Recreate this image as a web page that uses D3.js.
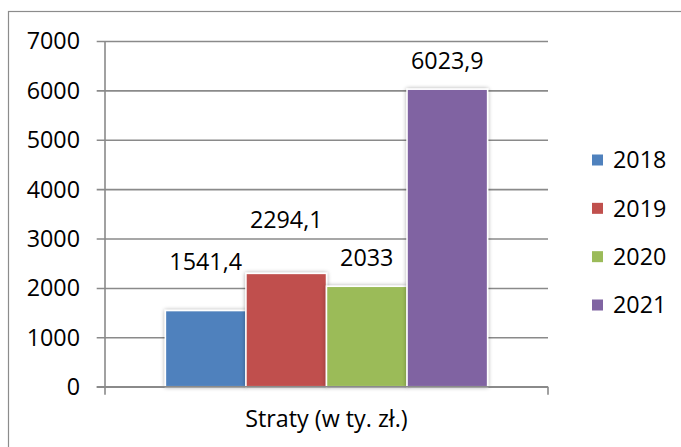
<!DOCTYPE html>
<html>
<head>
<meta charset="utf-8">
<script src="https://cdn.jsdelivr.net/npm/d3@7"></script>
<style>
  html, body { margin: 0; padding: 0; background: #fff; }
  svg { display: block; font-family: "Open Sans", "Noto Sans", sans-serif; }
</style>
</head>
<body>
<svg id="chart" width="681" height="447"></svg>
<script>
// Straty (w tys. zł) by year
const category = "Straty (w ty. zł.)";
const years = ["2018", "2019", "2020", "2021"];
const values = [1541.4, 2294.1, 2033, 6023.9];
const valueLabels = ["1541,4", "2294,1", "2033", "6023,9"];
const yTicks = [0, 1000, 2000, 3000, 4000, 5000, 6000, 7000];
const colors = ["#4F81BD", "#C0504D", "#9BBB59", "#8064A2"];

// extra lift of each value label above its bar (labels nudged to avoid overlap)
const labelLift = [41, 45, 20, 20];

const svg = d3.select("#chart");
const fontSize = 23.3;
const gridColor = "#8a8a8a";

// outer chart frame
svg.append("rect")
  .attr("x", 8.5).attr("y", 11.5)
  .attr("width", 720).attr("height", 500)
  .attr("fill", "none").attr("stroke", "#8c8c8c").attr("stroke-width", 1.2);

const plot = { left: 105, right: 548, top: 41, bottom: 386.7 };

const y = d3.scaleLinear().domain([0, 7000]).range([plot.bottom, plot.top]);
const x0 = d3.scaleBand().domain([category]).range([plot.left, plot.right]).paddingInner(0).paddingOuter(0);
// 150% gap width: group occupies 4 / 5.5 of the category
const groupW = x0.bandwidth() * 4 / 5.5;
const x1 = d3.scaleBand().domain(years)
  .range([x0(category) + (x0.bandwidth() - groupW) / 2, x0(category) + (x0.bandwidth() + groupW) / 2]);

// soft shadow for bars
const defs = svg.append("defs");
const f = defs.append("filter").attr("id", "shadow")
  .attr("x", "-20%").attr("y", "-20%").attr("width", "140%").attr("height", "140%");
f.append("feGaussianBlur").attr("in", "SourceAlpha").attr("stdDeviation", 2.2).attr("result", "b");
f.append("feOffset").attr("in", "b").attr("dx", 0).attr("dy", 0).attr("result", "o");
f.append("feComponentTransfer").attr("in", "o").attr("result", "s")
  .append("feFuncA").attr("type", "linear").attr("slope", 0.35);
const m = f.append("feMerge");
m.append("feMergeNode").attr("in", "s");
m.append("feMergeNode").attr("in", "SourceGraphic");

// horizontal gridlines with left tick marks
const yAxis = d3.axisLeft(y).tickValues(yTicks).tickSize(-(plot.right - plot.left)).tickSizeOuter(0).tickPadding(0).tickFormat("");
const gy = svg.append("g").attr("transform", `translate(${plot.left},0)`).call(yAxis);
gy.select(".domain").remove();
gy.selectAll(".tick line")
  .attr("x1", -8.3)
  .attr("stroke", gridColor).attr("stroke-width", 1.6);

// vertical axis line
svg.append("line")
  .attr("x1", plot.left).attr("x2", plot.left)
  .attr("y1", plot.top).attr("y2", plot.bottom + 8)
  .attr("stroke", gridColor).attr("stroke-width", 1.6);
// right tick of the category axis
svg.append("line")
  .attr("x1", plot.right).attr("x2", plot.right)
  .attr("y1", plot.bottom).attr("y2", plot.bottom + 8)
  .attr("stroke", gridColor).attr("stroke-width", 1.6);

// y tick labels
svg.append("g").selectAll("text").data(yTicks).join("text")
  .attr("x", 80).attr("y", d => y(d))
  .attr("dy", "0.36em")
  .attr("text-anchor", "end")
  .attr("font-size", fontSize).attr("fill", "#000")
  .text(d => d);

// bars
svg.append("g").selectAll("rect").data(values).join("rect")
  .attr("x", (d, i) => x1(years[i]))
  .attr("y", d => y(d))
  .attr("width", x1.bandwidth())
  .attr("height", d => y(0) - y(d))
  .attr("fill", (d, i) => colors[i])
  .attr("stroke", "#fff").attr("stroke-width", 1.5)
  .attr("filter", "url(#shadow)");

// redraw baseline over the bar shadows
svg.append("line")
  .attr("x1", plot.left - 8.3).attr("x2", plot.right)
  .attr("y1", y(0)).attr("y2", y(0))
  .attr("stroke", gridColor).attr("stroke-width", 1.6);

// value labels
svg.append("g").selectAll("text").data(values).join("text")
  .attr("x", (d, i) => x1(years[i]) + x1.bandwidth() / 2)
  .attr("y", (d, i) => y(d) - labelLift[i])
  .attr("text-anchor", "middle")
  .attr("font-size", fontSize).attr("fill", "#000")
  .text((d, i) => valueLabels[i]);

// category label
svg.append("text")
  .attr("x", (plot.left + plot.right) / 2).attr("y", 427)
  .attr("text-anchor", "middle")
  .attr("font-size", fontSize).attr("fill", "#000")
  .text(category);

// legend
const legendY = d3.scalePoint().domain(years).range([160, 305]);
const lg = svg.append("g").selectAll("g").data(years).join("g")
  .attr("transform", d => `translate(592,${legendY(d)})`);
lg.append("rect")
  .attr("x", 0).attr("y", -5.5).attr("width", 11).attr("height", 11)
  .attr("fill", (d, i) => colors[i]);
lg.append("text")
  .attr("x", 21).attr("y", 0).attr("dy", "0.36em")
  .attr("font-size", fontSize).attr("fill", "#000")
  .text(d => d);
</script>
</body>
</html>
